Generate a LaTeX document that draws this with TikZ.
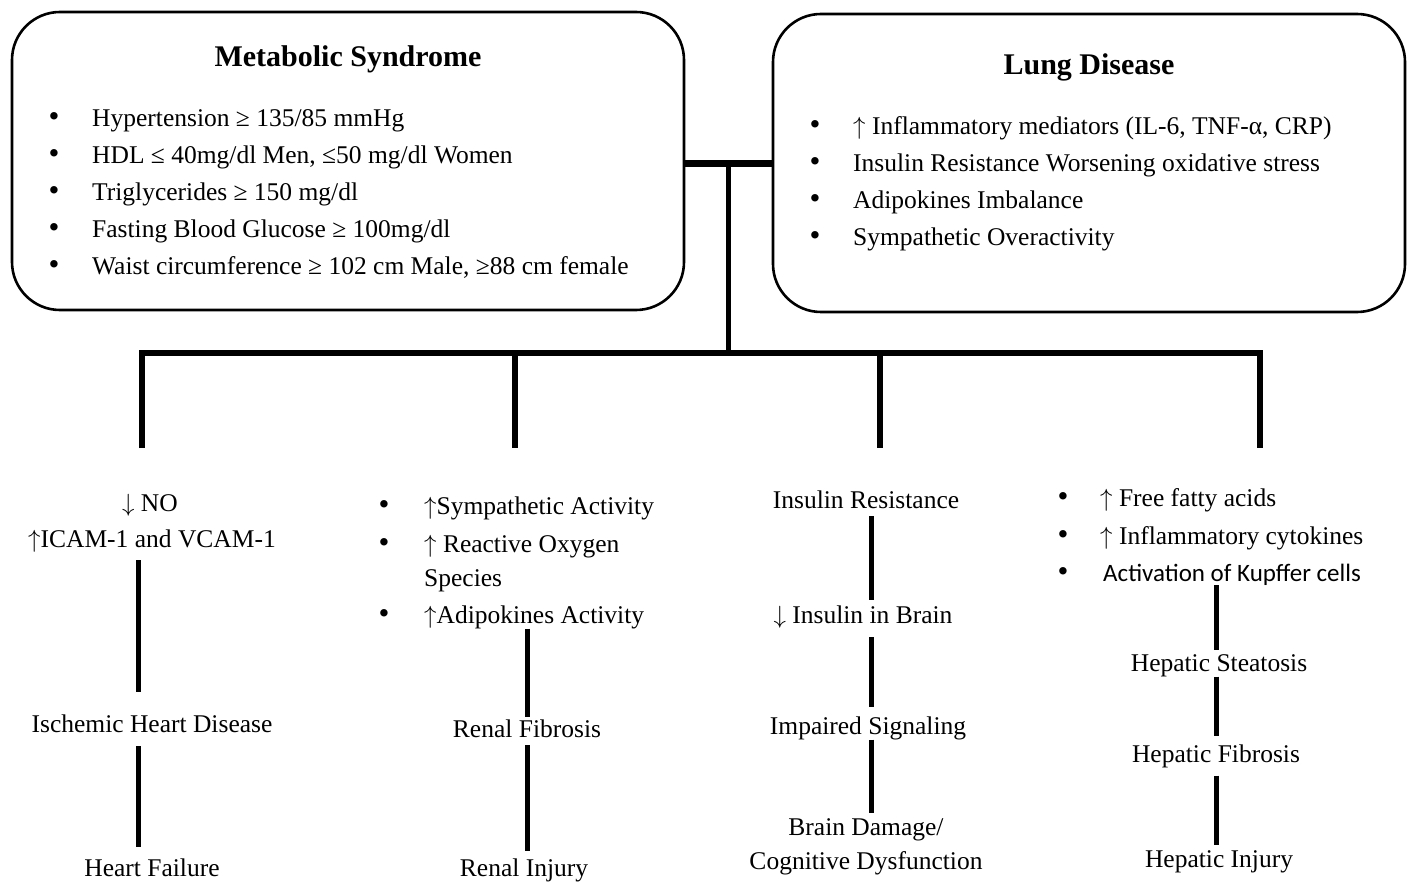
\documentclass[tikz,border=0pt]{standalone}
\usepackage{fontspec}
\setmainfont{Liberation Serif}
\newfontfamily\calibri{Carlito}
\usetikzlibrary{calc}

\newcommand{\up}{$\uparrow$}
\newcommand{\dn}{$\downarrow$}
\newcommand{\dotmark}{{\fontsize{31}{34}\selectfont\textbullet}}

\tikzset{
  box/.style={draw, line width=2.6pt, rounded corners=48pt},
  link/.style={line width=5pt, shorten <=6pt, shorten >=6pt},
  bar/.style={line width=5.5pt},
  lbl/.style={inner sep=0pt, font=\fontsize{25.5}{34}\selectfont},
  hd/.style={inner sep=0pt, anchor=base, font=\bfseries\fontsize{30}{36}\selectfont},
}

\begin{document}
\begin{tikzpicture}[x=1pt, y=-1pt]
\useasboundingbox (0,0) rectangle (1413,882);

% the two boxes on top
\node[box, minimum width=672pt, minimum height=298pt] (ms) at (348,161) {};
\node[box, minimum width=632pt, minimum height=298pt] (ld) at (1089,163) {};
\node[hd] (mst) at (348,67) {Metabolic Syndrome};
\node[hd] (ldt) at (1089,75) {Lung Disease};

\foreach \t [count=\i, evaluate=\i as \yy using 90+37*\i] in {%
  {Hypertension ≥ 135/85 mmHg},
  {HDL ≤ 40mg/dl Men, ≤50 mg/dl Women},
  {Triglycerides ≥ 150 mg/dl},
  {Fasting Blood Glucose ≥ 100mg/dl},
  {Waist circumference ≥ 102 cm Male, ≥88 cm female}} {
  \node[lbl, anchor=base] (msb\i) at (54,\yy) {\dotmark};
  \node[lbl, anchor=base west] (ms\i) at (92,\yy) {\t};
}

\foreach \t [count=\i, evaluate=\i as \yy using 98+37*\i] in {%
  {\up\ Inflammatory mediators (IL-6, TNF-α, CRP)},
  {Insulin Resistance Worsening oxidative stress},
  {Adipokines Imbalance},
  {Sympathetic Overactivity}} {
  \node[lbl, anchor=base] (ldb\i) at (815,\yy) {\dotmark};
  \node[lbl, anchor=base west] (ld\i) at (853,\yy) {\t};
}

% tree
\coordinate (jl) at ([yshift=-3pt]ms.east);
\coordinate (jr) at (jl -| ld.west);
\coordinate (hub) at ($(jl)!0.5!(jr)$);
\coordinate (b1) at (142,353);
\coordinate (b2) at (515,353);
\coordinate (b3) at (880,353);
\coordinate (b4) at (1260,353);
\coordinate (e1) at (142,448);
\coordinate (e2) at (515,448);
\coordinate (e3) at (880,448);
\coordinate (e4) at (1260,448);

\draw[bar, line width=7pt] (jl) -- (jr);
\draw[bar] (hub) -- (hub |- b1);
\draw[bar] (e1) -- (b1) -- (b4) -- (e4);
\draw[bar] (b2) -- (e2);
\draw[bar] (b3) -- (e3);

% heart
\node[lbl, anchor=base] (no) at (150,511) {\dn\ NO};
\node[lbl, anchor=base] (icam) at (152,547) {\up ICAM-1 and VCAM-1};
\node[lbl, anchor=base] (ihd) at (152,732) {Ischemic Heart Disease};
\node[lbl, anchor=base] (hf) at (152,876) {Heart Failure};
\draw[link, shorten <=8pt, shorten >=22pt] ([xshift=-14pt]icam.south) -- ([xshift=-14pt]ihd.north);
\draw[link, shorten <=14pt, shorten >=11pt] ([xshift=-14pt]ihd.south) -- ([xshift=-14pt]hf.north);

% kidney
\node[lbl, anchor=base] (kb1) at (384,514) {\dotmark};
\node[lbl, anchor=base] (kb2) at (384,552) {\dotmark};
\node[lbl, anchor=base] (kb3) at (384,623) {\dotmark};
\node[lbl, anchor=base west] (sa) at (424,514) {\up Sympathetic Activity};
\node[lbl, anchor=base west] (ros) at (424,552) {\up\ Reactive Oxygen};
\node[lbl, anchor=base west] (sp) at (424,586) {Species};
\node[lbl, anchor=base west] (ad) at (424,623) {\up Adipokines Activity};
\node[lbl, anchor=base] (rf) at (527,737) {Renal Fibrosis};
\node[lbl, anchor=base] (ri) at (524,876) {Renal Injury};
\draw[link, shorten <=0pt, shorten >=2pt] (ad.south -| rf.north) -- (rf.north);
\draw[link, shorten <=8pt, shorten >=7pt] (rf.south) -- (rf.south |- ri.north);

% brain
\node[lbl, anchor=base] (ir) at (866,508) {Insulin Resistance};
\node[lbl, anchor=base] (ib) at (863,623) {\dn\ Insulin in Brain};
\node[lbl, anchor=base] (isg) at (868,734) {Impaired Signaling};
\node[lbl, align=center, anchor=north] (bd) at (866,818) {Brain Damage/\\Cognitive Dysfunction};
\draw[link, shorten <=8pt, shorten >=5pt] ([xshift=5pt]ir.south) -- ([xshift=5pt]ir.south |- ib.north);
\draw[link, shorten <=9pt, shorten >=9pt] ([xshift=5pt]ir.south |- ib.south) -- ([xshift=5pt]ir.south |- isg.north);
\draw[link, shorten <=0pt, shorten >=5pt] ([xshift=5pt]ir.south |- isg.south) -- ([xshift=5pt]ir.south |- bd.north);

% liver
\node[lbl, anchor=base] (lb1) at (1063,506) {\dotmark};
\node[lbl, anchor=base] (lb2) at (1063,544) {\dotmark};
\node[lbl, anchor=base] (lb3) at (1063,581) {\dotmark};
\node[lbl, anchor=base west] (ffa) at (1100,506) {\up\ Free fatty acids};
\node[lbl, anchor=base west] (ic) at (1100,544) {\up\ Inflammatory cytokines};
\node[lbl, anchor=base west, font=\calibri\fontsize{25}{30}\selectfont] (kc) at (1103,581) {Activation of Kupffer cells};
\node[lbl, anchor=base] (hs) at (1219,671) {Hepatic Steatosis};
\node[lbl, anchor=base] (hfb) at (1216,762) {Hepatic Fibrosis};
\node[lbl, anchor=base] (hi) at (1219,867) {Hepatic Injury};
\draw[link, shorten <=0pt, shorten >=4pt] (kc.south -| hfb.north) -- (hfb.north |- hs.north);
\draw[link, shorten <=0pt, shorten >=8pt] (hfb.north |- hs.south) -- (hfb.north);
\draw[link, shorten <=8pt, shorten >=5pt] (hfb.south) -- (hfb.south |- hi.north);

\end{tikzpicture}
\end{document}
